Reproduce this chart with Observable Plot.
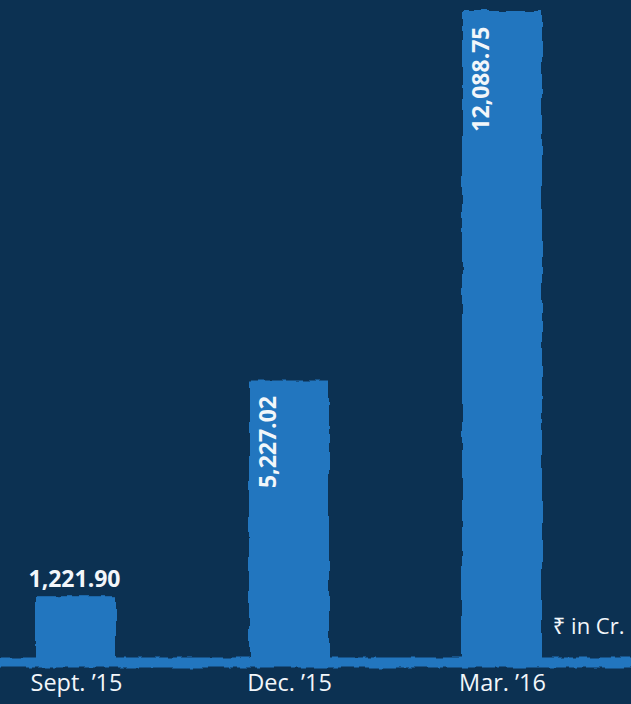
<!DOCTYPE html>
<html>
<head>
<meta charset="utf-8">
<script src="https://cdn.jsdelivr.net/npm/d3@7"></script>
<script src="https://cdn.jsdelivr.net/npm/@observablehq/plot@0.6"></script>
<style>
  html, body { margin: 0; padding: 0; background: #0c3152; }
  #chart svg { display: block; }
</style>
</head>
<body>
<div id="chart"></div>
<script>
const periods = ["Sept. ’15", "Dec. ’15", "Mar. ’16"];
const amounts = [1221.90, 5227.02, 12088.75];
const amountLabels = ["1,221.90", "5,227.02", "12,088.75"];
const unitNote = "₹ in Cr.";

const data = periods.map((p, i) => ({period: p, amount: amounts[i], label: amountLabels[i], rotated: i > 0}));

const barColor = "#2176bf";
const textColor = "#f2f6fa";

const chart = Plot.plot({
  width: 631,
  height: 704,
  marginTop: 11,
  marginBottom: 42,
  marginLeft: 0,
  marginRight: 0,
  style: {background: "#0c3152", color: textColor, fontFamily: "'Open Sans', 'Noto Sans', sans-serif"},
  x: {domain: periods, paddingInner: 0.625, paddingOuter: 0.29, align: 0.286, label: null},
  y: {domain: [0, 12088.75], axis: null},
  marks: [
    Plot.ruleY([0], {stroke: barColor, strokeWidth: 10, className: "rough"}),
    Plot.barY(data, {x: "period", y: "amount", fill: barColor, className: "rough"}),
    Plot.axisX({tickSize: 0, tickPadding: 12, fontSize: 23.5, fill: textColor, label: null}),
    Plot.text(data.filter(d => !d.rotated), {x: "period", y: "amount", text: "label", dy: -17, dx: -2, fontSize: 23, fontWeight: "bold", fill: textColor}),
    Plot.text(data.filter(d => d.rotated), {x: "period", y: "amount", text: "label", rotate: -90, textAnchor: "end", dx: -21, dy: 15, fontSize: 23, fontWeight: "bold", fill: textColor}),
    Plot.text([unitNote], {frameAnchor: "bottom-right", text: d => d, textAnchor: "end", dx: -7, dy: -29, fontSize: 22, fill: textColor})
  ]
});

// rough brush-like edges
const defs = d3.select(chart).insert("defs", ":first-child");
const f = defs.append("filter").attr("id", "roughEdge")
  .attr("filterUnits", "userSpaceOnUse")
  .attr("x", -20).attr("y", -20).attr("width", 671).attr("height", 744);
f.append("feTurbulence").attr("type", "fractalNoise").attr("baseFrequency", "0.09 0.05").attr("numOctaves", 2).attr("seed", 3).attr("result", "noise");
f.append("feDisplacementMap").attr("in", "SourceGraphic").attr("in2", "noise").attr("scale", 5).attr("xChannelSelector", "R").attr("yChannelSelector", "G");
d3.select(chart).selectAll(".rough").attr("filter", "url(#roughEdge)");

document.getElementById("chart").appendChild(chart);
</script>
</body>
</html>
